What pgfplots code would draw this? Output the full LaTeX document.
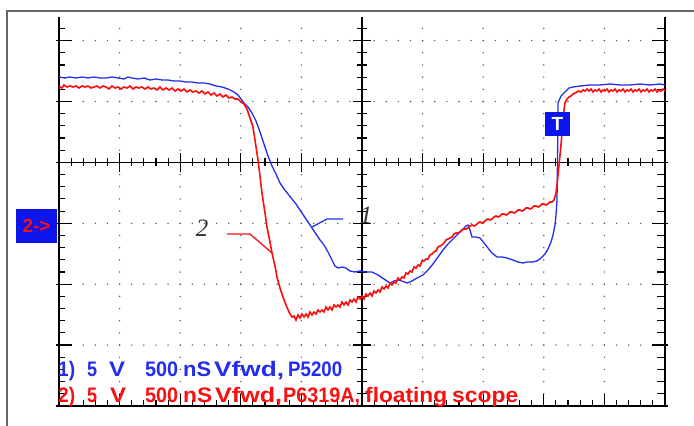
\documentclass[border=0pt]{standalone}
\usepackage{pgfplots}
\pgfplotsset{compat=1.18}
\usepackage{fontspec}
\setmainfont{Liberation Sans}
\newfontfamily\seriffont{Liberation Serif}
\definecolor{trblue}{RGB}{35,45,235}
\definecolor{trred}{RGB}{250,15,15}
\definecolor{boxblue}{RGB}{10,20,235}
\definecolor{gridc}{RGB}{90,90,90}
\newcommand{\wword}[2]{\resizebox{#1pt}{\height}{#2}}
\begin{document}
\begin{tikzpicture}
\useasboundingbox (0,0) rectangle (694pt,426pt);
\begin{axis}[
  at={(59pt,20pt)}, anchor=south west,
  scale only axis, width=606pt, height=389pt,
  xmin=59, xmax=665, ymin=17, ymax=406, y dir=reverse,
  hide axis, clip=false,
]
% frame
\draw[gray!80!black, line width=1.4pt] (axis cs:7,426) -- (axis cs:7,11) -- (axis cs:700,11);
% dotted grid
\pgfplotsinvokeforeach{1,2,3,4,6,7,8,9}{
  \draw[gridc, line width=1.6pt, line cap=round, dash pattern=on 0pt off 12.18pt]
    (axis cs:{59+#1*60.6},406) -- (axis cs:{59+#1*60.6},17);
}
\pgfplotsinvokeforeach{1,2,3,5,6}{
  \draw[gridc, line width=1.6pt, line cap=round, dash pattern=on 0pt off 12.12pt]
    (axis cs:59,{406-#1*60.9}) -- (axis cs:665,{406-#1*60.9});
}
% axis lines
\draw[black, line width=1.3pt] (axis cs:59,17) -- (axis cs:59,406) -- (axis cs:665,406) -- (axis cs:665,17);
\draw[black, line width=1.3pt] (axis cs:362,17) -- (axis cs:362,406);
\draw[black, line width=1.3pt] (axis cs:59,162.4) -- (axis cs:665,162.4);
% minor ticks
\pgfplotsinvokeforeach{0,...,50}{
  \draw[black, line width=1.1pt] (axis cs:{59+#1*12.12},406) -- (axis cs:{59+#1*12.12},400);
  \draw[black, line width=1.1pt] (axis cs:{59+#1*12.12},158.4) -- (axis cs:{59+#1*12.12},166.4);
}
\pgfplotsinvokeforeach{0,...,31}{
  \draw[black, line width=1.1pt] (axis cs:59,{406-#1*12.18}) -- (axis cs:65,{406-#1*12.18});
  \draw[black, line width=1.1pt] (axis cs:665,{406-#1*12.18}) -- (axis cs:657,{406-#1*12.18});
  \draw[black, line width=1.1pt] (axis cs:357,{406-#1*12.18}) -- (axis cs:367,{406-#1*12.18});
}
% major ticks
\pgfplotsinvokeforeach{0,...,10}{
  \draw[black, line width=1.3pt] (axis cs:{59+#1*60.6},406) -- (axis cs:{59+#1*60.6},394);
  \draw[black, line width=1.3pt] (axis cs:{59+#1*60.6},153) -- (axis cs:{59+#1*60.6},172);
}
\pgfplotsinvokeforeach{0,...,6}{
  \draw[black, line width=1.3pt] (axis cs:56,{406-#1*60.9}) -- (axis cs:72,{406-#1*60.9});
  \draw[black, line width=1.3pt] (axis cs:668,{406-#1*60.9}) -- (axis cs:652,{406-#1*60.9});
  \draw[black, line width=1.3pt] (axis cs:353,{406-#1*60.9}) -- (axis cs:371,{406-#1*60.9});
}
% trace 1 (blue)
\addplot[trblue, line width=1.3pt] coordinates {
(59,77) (65,78) (70,77) (76,78) (82,77) (88,78) (94,77) (100,78) (106,78) (112,77)
(118,78) (124,79) (128,77) (132,78) (138,79) (144,78) (150,80) (156,79) (162,80) (168,80)
(174,81) (180,81) (186,82) (192,82) (198,83) (204,83) (210,84) (216,86) (222,87) (228,89)
(234,92) (238,95) (241,99) (244,103) (248,107) (252,113) (256,121) (260,132) (264,144) (268,156)
(272,166) (276,174) (280,183) (284,189) (288,194) (292,199) (296,204) (300,210) (304,216) (308,222)
(312,228) (316,234) (320,240) (324,245) (328,252) (332,260) (335,266) (338,268) (342,267) (346,268)
(350,271) (355,272) (360,271) (366,272) (372,272) (378,275) (384,279) (390,283) (394,281) (398,280)
(402,281) (407,283) (412,281) (417,278) (423,275) (428,270) (433,264) (438,257) (443,250) (448,244)
(453,239) (458,234) (462,230) (466,226) (468,225) (470,230) (472,237) (476,237) (480,238) (484,243)
(488,248) (492,253) (497,257) (502,257) (507,258) (513,260) (518,262) (523,263) (527,262) (532,262)
(537,261) (541,258) (545,254) (548,249) (551,242) (553,235) (555,225) (556,215) (557,200) (557.5,160)
(558,120) (558,103) (561,96) (565,92) (569,88) (573,87) (580,86) (590,85) (600,85) (610,84)
(620,85) (630,85) (640,84) (650,85) (660,84) (665,85)
};
% trace 2 (red)
\addplot[trred, line width=1.6pt] coordinates {
(59,86) (62,88) (64,85) (67,87) (70,86) (73,87) (76,86) (79,88) (82,86) (85,87)
(88,86) (91,88) (94,87) (97,86) (100,88) (103,86) (106,87) (109,89) (112,86) (115,88)
(118,87) (121,89) (124,87) (127,88) (130,86) (133,89) (136,87) (139,88) (142,87) (145,89)
(148,87) (151,89) (154,88) (157,90) (160,87) (163,90) (166,88) (169,90) (172,88) (175,91)
(178,89) (181,91) (184,89) (187,92) (190,90) (193,92) (196,91) (199,93) (202,91) (205,94)
(208,92) (211,95) (214,93) (217,96) (220,94) (223,97) (226,95) (229,98) (232,97) (235,99)
(238,99) (241,102) (244,104) (247,109) (250,118) (253,127) (255,140) (258,160) (260,176) (262,193)
(265,213) (267,227) (270,242) (272,253) (275,266) (277,277) (280,288) (283,297) (286,305) (289,312)
(292,317) (294,316) (296,320) (298,315) (300,318) (302,314) (304,317) (306,314) (308,317) (310,312)
(312,315) (314,312) (316,314) (318,310) (320,312) (322,310) (324,312) (326,307) (328,310) (330,307)
(332,310) (334,305) (336,307) (338,305) (340,307) (342,302) (344,305) (346,302) (348,305) (350,300)
(352,302) (354,299) (356,302) (358,297) (360,299) (362,296) (364,299) (366,294) (368,296) (370,293)
(372,296) (374,291) (376,293) (378,290) (380,292) (382,287) (384,289) (386,286) (388,288) (390,283)
(392,285) (394,282) (396,283) (398,278) (400,280) (402,277) (404,278) (406,273) (408,274) (410,271)
(412,272) (414,267) (416,268) (418,265) (420,266) (422,261) (424,261) (426,259) (428,259) (430,255)
(432,254) (434,252) (436,251) (438,247) (440,246) (442,245) (444,243) (446,240) (448,239) (450,238)
(452,237) (454,234) (456,233) (458,233) (460,232) (462,230) (464,229) (466,229) (468,228) (470,226)
(472,225) (474,226) (476,225) (478,223) (480,222) (482,223) (484,222) (486,220) (488,219) (490,220)
(492,219) (494,217) (496,216) (498,217) (500,216) (502,214) (504,214) (506,215) (508,214) (510,212)
(512,212) (514,213) (516,212) (518,210) (520,210) (522,211) (524,210) (526,208) (528,208) (530,209)
(532,208) (534,206) (536,206) (538,207) (540,206) (542,204) (544,204) (546,205) (548,204) (550,202)
(552,202) (554,200) (556,193) (557,185) (558,175) (559,165) (560,155) (561,145) (562,133) (563,120)
(564,110) (565,103) (567,99) (569,97) (571,96) (573,94) (575,93) (577,92) (579,91) (581,92)
(583,90) (585,91) (587,89) (589,91) (591,89) (593,92) (595,90) (597,91) (599,89) (601,92)
(603,90) (605,91) (607,89) (609,92) (611,90) (613,91) (615,89) (617,92) (619,90) (621,91)
(623,89) (625,92) (627,90) (629,91) (631,89) (633,92) (635,90) (637,91) (639,89) (641,92)
(643,90) (645,91) (647,89) (649,92) (651,90) (653,91) (655,89) (657,92) (659,90) (661,91)
(663,89) (665,91)
};
% leader lines and labels
\draw[trblue, line width=1.3pt] (axis cs:343,219) -- (axis cs:327,219) -- (axis cs:312,227);
\draw[trred, line width=1.3pt] (axis cs:227,234) -- (axis cs:250,234) -- (axis cs:272,253);
\node[font=\seriffont\itshape\fontsize{25}{25}\selectfont, text=black!80, inner sep=0] at (axis cs:366,215) {1};
\node[font=\seriffont\itshape\fontsize{25}{25}\selectfont, text=black!80, inner sep=0] at (axis cs:202,228) {2};
% markers
\node[fill=boxblue, minimum width=41pt, minimum height=34pt, inner sep=0, text=trred,
  font=\bfseries\fontsize{19}{20}\selectfont] at (axis cs:36.5,226) {2->};
\node[fill=boxblue, minimum width=25pt, minimum height=24pt, inner sep=0, text=white,
  font=\bfseries\fontsize{19}{20}\selectfont] at (axis cs:557.5,124) {T};
% bottom texts
\begin{scope}[every node/.style={anchor=base west, inner sep=0, font=\bfseries\fontsize{21}{22}\selectfont}]
\node[text=trblue] at (axis cs:58,376) {\wword{17}{1)}};
\node[text=trblue] at (axis cs:87,376) {\wword{10}{5}};
\node[text=trblue] at (axis cs:109,376) {\wword{16}{V}};
\node[text=trblue] at (axis cs:145,376) {\wword{33}{500}};
\node[text=trblue] at (axis cs:183,376) {\wword{28}{nS}};
\node[text=trblue] at (axis cs:214,376) {\wword{70}{Vfwd,}};
\node[text=trblue] at (axis cs:288,376) {\wword{54}{P5200}};
\node[text=trred] at (axis cs:58,402) {\wword{17}{2)}};
\node[text=trred] at (axis cs:87,402) {\wword{10}{5}};
\node[text=trred] at (axis cs:110,402) {\wword{16}{V}};
\node[text=trred] at (axis cs:145,402) {\wword{33}{500}};
\node[text=trred] at (axis cs:183,402) {\wword{29}{nS}};
\node[text=trred] at (axis cs:215,402) {\wword{67}{Vfwd,}};
\node[text=trred] at (axis cs:283,402) {\wword{77}{P6319A,}};
\node[text=trred] at (axis cs:365,402) {\wword{82}{floating}};
\node[text=trred] at (axis cs:452,402) {\wword{66}{scope}};
\end{scope}
\end{axis}
\end{tikzpicture}
\end{document}
